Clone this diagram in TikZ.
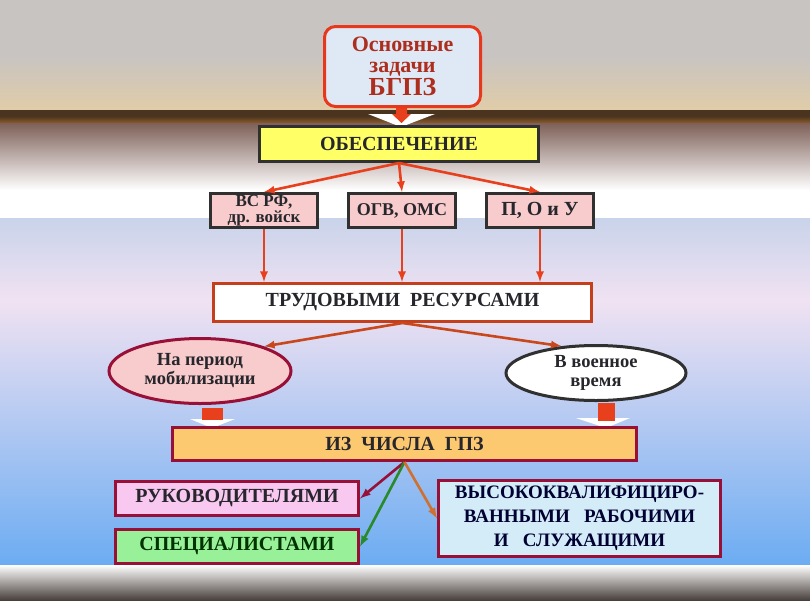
\documentclass[tikz,border=0pt]{standalone}
\usepackage{fontspec}
\setmainfont{Liberation Serif}
\usetikzlibrary{shapes.geometric}
\definecolor{skytop}{HTML}{C8C4C2}
\definecolor{skysand}{HTML}{E0CCA8}
\definecolor{horizon}{HTML}{4A3420}
\definecolor{rustband}{HTML}{8A5A28}
\definecolor{dusk}{HTML}{7E6058}
\definecolor{haze}{HTML}{C9D3EA}
\definecolor{lilac}{HTML}{F0E2F2}
\definecolor{seablue}{HTML}{6CACF2}
\definecolor{ground}{HTML}{48403C}
\definecolor{taskfill}{HTML}{DFE9F5}
\definecolor{taskline}{HTML}{E8381C}
\definecolor{tasktext}{HTML}{AC2E1E}
\definecolor{inkdark}{HTML}{26262C}
\definecolor{boxdark}{HTML}{303030}
\definecolor{lemon}{HTML}{FFFF66}
\definecolor{rose}{HTML}{F8CCCC}
\definecolor{brick}{HTML}{C4401C}
\definecolor{wine}{HTML}{981038}
\definecolor{apricot}{HTML}{FCC870}
\definecolor{orchid}{HTML}{F8C8F0}
\definecolor{mint}{HTML}{98F098}
\definecolor{ice}{HTML}{D4ECF8}
\definecolor{arrowred}{HTML}{E8401C}
\definecolor{arrowbrick}{HTML}{C8481C}
\definecolor{arrowleaf}{HTML}{2A8A2A}
\definecolor{arrowrust}{HTML}{D07030}
\begin{document}
\begin{tikzpicture}[x=1pt,y=-1pt,>=latex,
	every node/.style={font=\bfseries,align=center,text=inkdark,inner sep=0pt},
	box/.style={draw=boxdark,line width=3pt},
	oval/.style={ellipse,line width=3pt},
	link/.style={->,line width=2.6pt,arrowred}]
	% background
	\fill[skytop] (0,0) rectangle (810,55);
	\shade[top color=skytop,bottom color=skysand] (0,55) rectangle (810,110);
	\fill[horizon] (0,110) rectangle (810,116);
	\shade[top color=horizon,bottom color=rustband] (0,116) rectangle (810,123);
	\shade[top color=dusk,bottom color=white] (0,123) rectangle (810,190);
	\fill[white] (0,190) rectangle (810,218);
	\shade[top color=haze,bottom color=lilac] (0,218) rectangle (810,300);
	\shade[top color=lilac,bottom color=seablue] (0,300) rectangle (810,565);
	\shade[top color=white,bottom color=ground] (0,565) rectangle (810,600);
	% block arrows
	\fill[white] (368,114) -- (435,114) -- (401,127) -- cycle;
	\fill[arrowred] (396,106) -- (407,106) -- (407,114) -- (411,114) -- (401.5,123) -- (392,114) -- (396,114) -- cycle;
	\fill[white] (190,419) -- (235,419) -- (212,428) -- cycle;
	\fill[arrowred] (202,408) rectangle (223,420);
	\fill[white] (576,418) -- (630,418) -- (606,428) -- cycle;
	\fill[arrowred] (598,403) rectangle (615,421);
	% nodes
	\node[draw=taskline,line width=3pt,rounded corners=11pt,fill=taskfill,minimum width=156pt,minimum height=80pt,text=tasktext,
		font=\bfseries\fontsize{22}{21}\selectfont] (task) at (402.5,66.5)
		{Основные\\задачи\\[1pt]{\fontsize{26}{26}\selectfont БГПЗ}};
	\node[box,fill=lemon,minimum width=279pt,minimum height=35pt,font=\bfseries\fontsize{20}{20}\selectfont] (supply) at (399,144) {ОБЕСПЕЧЕНИЕ};
	\node[box,fill=rose,minimum width=107pt,minimum height=34pt,font=\bfseries\fontsize{17}{16}\selectfont] (vs) at (264,210.5) {ВС РФ,\\др. войск};
	\node[box,fill=rose,minimum width=107pt,minimum height=34pt,font=\bfseries\fontsize{18}{18}\selectfont] (ogv) at (402,210.5) {ОГВ, ОМС};
	\node[box,fill=rose,minimum width=107pt,minimum height=34pt,font=\bfseries\fontsize{20}{20}\selectfont] (pou) at (540,210.5) {П, О и У};
	\node[box,draw=brick,fill=white,minimum width=378pt,minimum height=38pt,font=\bfseries\fontsize{20}{20}\selectfont] (labour) at (402.5,302.5) {ТРУДОВЫМИ~ РЕСУРСАМИ};
	\node[oval,draw=wine,fill=rose,minimum width=182pt,minimum height=65pt,font=\bfseries\fontsize{18.5}{19}\selectfont] (mob) at (200,371) {На период\\мобилизации};
	\node[oval,draw=boxdark,fill=white,minimum width=180pt,minimum height=55pt,font=\bfseries\fontsize{18.5}{19}\selectfont] (war) at (596,373) {В военное\\время};
	\node[box,draw=wine,fill=apricot,minimum width=464pt,minimum height=33pt,font=\bfseries\fontsize{20}{20}\selectfont] (gpz) at (404.5,444) {ИЗ~ ЧИСЛА~ ГПЗ};
	\node[box,draw=wine,fill=orchid,minimum width=243pt,minimum height=34pt,font=\bfseries\fontsize{20}{20}\selectfont] (lead) at (237,498.5) {РУКОВОДИТЕЛЯМИ};
	\node[box,draw=wine,fill=mint,minimum width=243pt,minimum height=34pt,font=\bfseries\fontsize{20}{20}\selectfont,text=black!80!green] (spec) at (237,546.5) {СПЕЦИАЛИСТАМИ};
	\node[box,draw=wine,fill=ice,minimum width=282pt,minimum height=76pt,font=\bfseries\fontsize{19}{24}\selectfont,text=black!80!blue] (high) at (579.5,518.5)
		{ВЫСОКОКВАЛИФИЦИРО-\\ВАННЫМИ~~ РАБОЧИМИ\\И~~ СЛУЖАЩИМИ};
	% connectors
	\draw[link] (supply.south) -- (vs.north);
	\draw[link] (supply.south) -- (ogv.north);
	\draw[link] (supply.south) -- (pou.north);
	\draw[link] (vs.south) -- (vs.south |- labour.north);
	\draw[link] (ogv.south) -- (ogv.south |- labour.north);
	\draw[link] (pou.south) -- (pou.south |- labour.north);
	\draw[link,arrowbrick] (labour.south) -- (mob.21);
	\draw[link,arrowbrick] (labour.south) -- (war.142);
	\draw[link,wine] (gpz.south) -- (lead.east);
	\draw[link,arrowleaf] (gpz.south) -- (spec.east);
	\draw[link,arrowrust] (gpz.south) -- (high.west);
\end{tikzpicture}
\end{document}
